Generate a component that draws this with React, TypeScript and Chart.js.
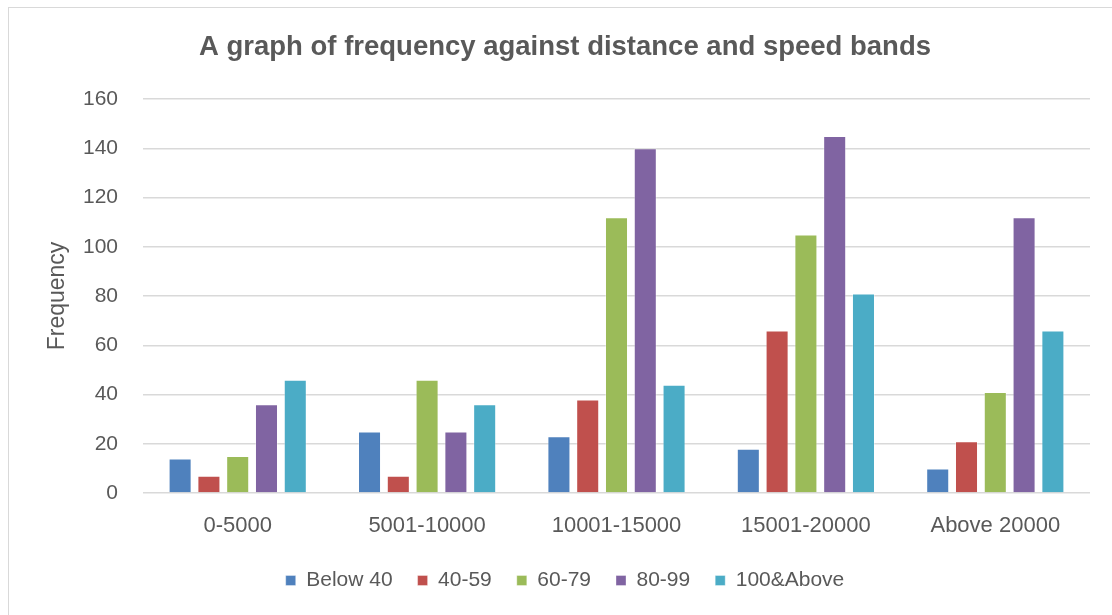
import React, { useEffect, useRef } from "react";
import { Chart, registerables } from "chart.js";

Chart.register(...registerables);

const categories = ["0-5000", "5001-10000", "10001-15000", "15001-20000", "Above 20000"];
const seriesNames = ["Below 40", "40-59", "60-79", "80-99", "100&Above"];
const below40 = [14, 25, 23, 18, 10];
const s40to59 = [7, 7, 38, 66, 21];
const s60to79 = [15, 46, 112, 105, 41];
const s80to99 = [36, 25, 140, 145, 112];
const s100above = [46, 36, 44, 81, 66];
const colors = ["#4F81BD", "#C0504D", "#9BBB59", "#8064A2", "#4BACC6"];

const FONT = "'Liberation Sans', Arial, sans-serif";
const TEXT = "#595959";

export default function App() {
  const ref = useRef<HTMLCanvasElement | null>(null);

  useEffect(() => {
    if (!ref.current) return;
    const values = [below40, s40to59, s60to79, s80to99, s100above];
    const chart = new Chart(ref.current, {
      type: "bar",
      data: {
        labels: categories,
        datasets: values.map((v, i) => ({
          label: seriesNames[i],
          data: v,
          backgroundColor: colors[i],
          borderColor: "rgba(255,255,255,0.35)",
          borderWidth: 1,
          categoryPercentage: 0.76,
          barPercentage: 0.8,
        })),
      },
      options: {
        animation: false,
        responsive: false,
        maintainAspectRatio: false,
        layout: { padding: { left: 40, right: 22, top: 0, bottom: 14 } },
        plugins: {
          tooltip: { enabled: false },
          title: {
            display: true,
            text: "A graph of frequency against distance and speed bands",
            color: TEXT,
            font: { family: FONT, size: 27.5, weight: "bold" },
            padding: { top: 31, bottom: 35 },
          },
          legend: {
            position: "bottom",
            labels: {
              color: TEXT,
              font: { family: FONT, size: 21 },
              boxWidth: 10,
              boxHeight: 10,
              padding: 25,
            },
          },
        },
        scales: {
          x: {
            grid: { display: false },
            border: { display: false },
            afterFit: (scale: any) => {
              scale.height = 52;
            },
            ticks: {
              color: TEXT,
              font: { family: FONT, size: 22 },
              padding: 12,
              maxRotation: 0,
            },
          },
          y: {
            min: 0,
            max: 160,
            afterFit: (scale: any) => {
              scale.width = 103;
            },
            ticks: {
              stepSize: 20,
              color: TEXT,
              font: { family: FONT, size: 21 },
              padding: 25,
            },
            grid: { color: "#d9d9d9", lineWidth: 1.5, drawTicks: false },
            border: { display: false },
            title: {
              display: true,
              text: "Frequency",
              color: TEXT,
              font: { family: FONT, size: 23 },
              padding: { top: 4, bottom: 0 },
            },
          },
        },
      },
    });
    return () => chart.destroy();
  }, []);

  return (
    <div style={{ position: "fixed", left: 0, top: 0, width: 1112, height: 615, background: "#fff", overflow: "hidden" }}>
      <div
        style={{
          position: "absolute",
          left: 8,
          top: 7,
          width: 1200,
          height: 700,
          border: "1px solid #d9d9d9",
        }}
      />
      <canvas ref={ref} width={1112} height={615} style={{ position: "absolute", left: 0, top: 0, display: "block" }} />
    </div>
  );
}
